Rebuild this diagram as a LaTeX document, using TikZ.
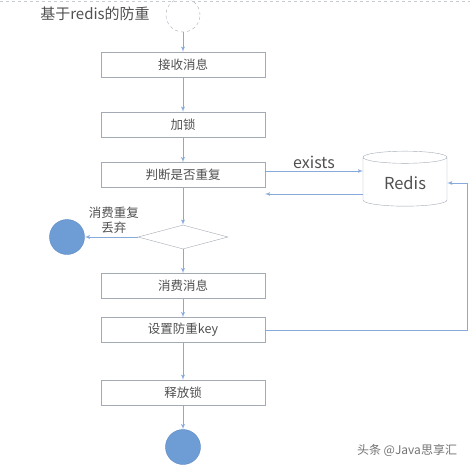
\documentclass[tikz,border=0pt]{standalone}
\usepackage{fontspec}
\setmainfont{Noto Sans CJK SC}
\usetikzlibrary{arrows,shapes.geometric}
\definecolor{flowline}{HTML}{86AADB}
\definecolor{boxline}{HTML}{A3AAB3}
\definecolor{dotfill}{HTML}{6E9DD6}
\definecolor{dotline}{HTML}{5B88C2}
\definecolor{txt}{HTML}{505050}
\tikzset{%
	block/.style    = {draw=boxline, rectangle, minimum width=164pt, minimum height=25pt, text=txt, font=\fontsize{12.5}{14}\selectfont},
	check/.style    = {draw=boxline, diamond, minimum width=90pt, minimum height=24pt, inner sep=0pt},
	store/.style    = {draw=boxline, cylinder, shape border rotate=90, aspect=0.25, minimum width=84pt, minimum height=55pt, text=txt, font=\fontsize{16.5}{18}\selectfont},
	dot/.style      = {draw=dotline, fill=dotfill, circle, minimum size=35pt, inner sep=0pt},
	startdot/.style = {draw=boxline, dashed, circle, minimum size=34pt, inner sep=0pt},
	flow/.style     = {draw=flowline, ->, >=latex', line width=0.8pt},
	waypoint/.style = {coordinate},
}
\begin{document}
\begin{tikzpicture}[x=1pt,y=-1pt,auto]
	\useasboundingbox (0,0) rectangle (470,468);
	\draw[boxline!60, dashed, line width=0.6pt] (0,1) -- (470,1);
	\node [text=txt, font=\fontsize{15}{17}\selectfont] (title) at (95,14) {基于redis的防重};
	\node [startdot] (start) at (183,15) {};
	\node [block] (recv) at (183,64.5) {接收消息};
	\node [block] (lock) [below of=recv,node distance=60pt] {加锁};
	\node [block] (judge) [below of=lock,node distance=50.5pt] {判断是否重复};
	\node [store] (redis) at (405,183) {Redis};
	\node [check] (dup) [below of=judge,node distance=62pt] {};
	\node [dot] (drop) at (67,237) {};
	\node [block] (consume) [below of=dup,node distance=49pt] {消费消息};
	\node [block] (setkey) [below of=consume,node distance=44pt] {设置防重key};
	\node [block] (release) [below of=setkey,node distance=62.5pt] {释放锁};
	\node [dot] (finish) [below of=release,node distance=54.5pt] {};
	\node [waypoint] (ask) at (265,171) {};
	\node [waypoint] (askend) at (363,171) {};
	\node [waypoint] (reply) at (363,194) {};
	\node [waypoint] (replyend) at (265,194) {};
	\node [waypoint] (edge) at (467,330) {};
	\node [text=txt!80, font=\fontsize{12}{14}\selectfont] (mark) at (407,450) {头条 @Java思享汇};

	\draw[flow] (start) -- (recv);
	\draw[flow] (recv) -- (lock);
	\draw[flow] (lock) -- (judge);
	\draw[flow] (ask) -- node[pos=0.5,above=-1pt,text=txt,font=\fontsize{16}{18}\selectfont] {exists} (askend);
	\draw[flow] (reply) -- (replyend);
	\draw[flow] (judge) -- (dup);
	\draw[flow] (dup) -- node[pos=0.45,above,align=center,text=txt,font=\fontsize{12.5}{15}\selectfont] {消费重复\\丢弃} (drop);
	\draw[flow] (dup) -- (consume);
	\draw[flow] (consume) -- (setkey);
	\draw[flow] (setkey) -- (edge) |- (redis.east);
	\draw[flow] (setkey) -- (release);
	\draw[flow] (release) -- (finish);
\end{tikzpicture}
\end{document}
